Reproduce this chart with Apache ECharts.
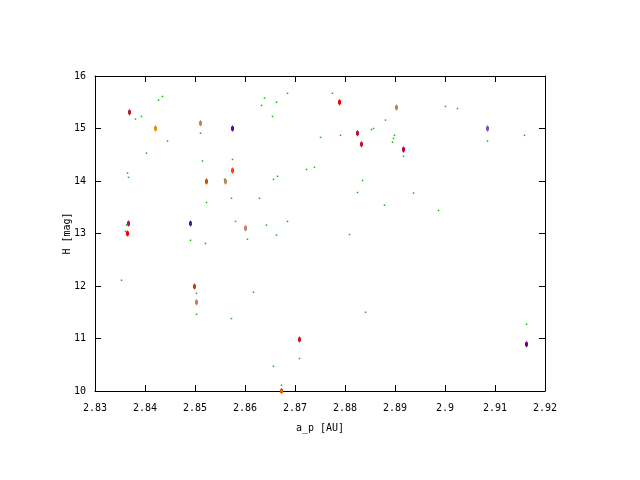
<!DOCTYPE html>
<html><head><meta charset="utf-8">
<script src="https://cdn.jsdelivr.net/npm/echarts@6/dist/echarts.min.js"></script>
<style>html,body{margin:0;padding:0;background:#fff}#c{width:640px;height:480px}</style>
</head><body><div id="c"></div>
<script>
const xTicks = [2.83,2.84,2.85,2.86,2.87,2.88,2.89,2.9,2.91,2.92];
const yTicks = [10,11,12,13,14,15,16];

const bgX = [2.8427,2.8435,2.8381,2.8393,2.8511,2.8445,2.8403,2.8515,2.8575,2.8365,2.8367,2.8559,
  2.8639,2.8633,2.8663,2.8685,2.8775,2.8655,2.8881,2.8853,2.8857,2.8791,2.8751,2.8899,2.8897,2.8895,
  2.8723,2.8739,2.8657,2.8665,2.8835,2.9001,2.9025,2.9159,2.9085,2.8917,2.8573,2.8523,2.8363,2.8361,
  2.8581,2.8491,2.8521,2.8605,2.8353,2.8503,2.8825,2.8879,2.8629,2.8643,2.8685,2.8663,2.8809,2.8617,
  2.8937,2.8987,2.8503,2.8573,2.8841,2.8709,2.8657,2.8673,2.9163];
const bgY = [15.54,15.61,15.18,15.23,14.91,14.76,14.53,14.38,14.41,14.15,14.07,14.03,
  15.58,15.44,15.50,15.67,15.67,15.23,15.16,14.98,15.00,14.87,14.83,14.87,14.81,14.74,
  14.22,14.26,14.03,14.09,14.01,15.42,15.38,14.87,14.76,14.47,13.67,13.59,13.16,13.04,
  13.23,12.87,12.81,12.89,12.11,11.86,13.78,13.54,13.67,13.16,13.23,12.97,12.98,11.88,
  13.77,13.44,11.46,11.38,11.50,10.62,10.47,10.11,11.27];

const famX = [2.8369,2.8421,2.8511,2.8575,2.8575,2.8523,2.8561,2.8789,2.8903,2.8825,2.8833,
  2.9085,2.8917,2.8367,2.8365,2.8491,2.8601,2.8499,2.8503,2.8709,2.8673,2.9163];
const famY = [15.31,15.00,15.10,15.00,14.20,13.99,13.99,15.50,15.40,14.91,14.70,
  15.00,14.60,13.19,13.00,13.19,13.10,11.99,11.69,10.98,10.00,10.89];
const famColors = ['#c02028','#e89000','#c88060','#5a00b0','#ff4000','#d05000','#c88060','#ff0000','#c88060','#c01040','#c02028',
  '#8050c0','#c00040','#b01050','#ff0000','#502090','#c88060','#d04000','#c88060','#c02028','#e06000','#800080'];

const font = 'DejaVu Sans Mono';
const fmtX = v => String(parseFloat(v.toFixed(2)));
const baseX = {type:'value', min:2.83, max:2.92, interval:0.01,
  axisLine:{show:true,onZero:false,lineStyle:{color:'#000',width:1}},
  axisTick:{show:true,inside:true,length:6,lineStyle:{color:'#000'}},
  splitLine:{show:false}};
const baseY = {type:'value', min:10, max:16, interval:1,
  axisLine:{show:true,onZero:false,lineStyle:{color:'#000',width:1}},
  axisTick:{show:true,inside:true,length:6,lineStyle:{color:'#000'}},
  splitLine:{show:false}};

const chart = echarts.init(document.getElementById('c'), null, {renderer:'canvas'});
chart.setOption({
  animation:false,
  backgroundColor:'#fff',
  grid:{left:95,right:95,top:76,bottom:89},
  xAxis:[
    Object.assign({}, baseX, {position:'bottom', name:'a_p [AU]', nameLocation:'middle', nameGap:32,
      nameMoveOverlap:false,
      nameTextStyle:{fontFamily:font,fontSize:10,color:'#000'},
      axisLabel:{show:true,margin:12,fontFamily:font,fontSize:10,color:'#000',formatter:fmtX}}),
    Object.assign({}, baseX, {position:'top', axisLabel:{show:false}})
  ],
  yAxis:[
    Object.assign({}, baseY, {position:'left', name:'H [mag]', nameLocation:'middle', nameGap:23, nameRotate:90,
      nameMoveOverlap:false,
      nameTextStyle:{fontFamily:font,fontSize:10,color:'#000'},
      axisLabel:{show:true,margin:9,fontFamily:font,fontSize:10,color:'#000'}}),
    Object.assign({}, baseY, {position:'right', axisLabel:{show:false}})
  ],
  series:[
    {type:'scatter', xAxisIndex:0, yAxisIndex:0,
      symbol:'path://M1,0H2V1H3V5H2V6H1V5H0V1H1Z', symbolSize:[3,6],
      itemStyle:{opacity:1},
      data: famX.map((x,i)=>({value:[x,famY[i]], itemStyle:{color:famColors[i], opacity:1}}))},
    {type:'scatter', xAxisIndex:0, yAxisIndex:0,
      symbol:'rect', symbolSize:1.5, itemStyle:{color:'#00c000', opacity:1},
      data: bgX.map((x,i)=>[x,bgY[i]])}
  ]
});
</script></body></html>
